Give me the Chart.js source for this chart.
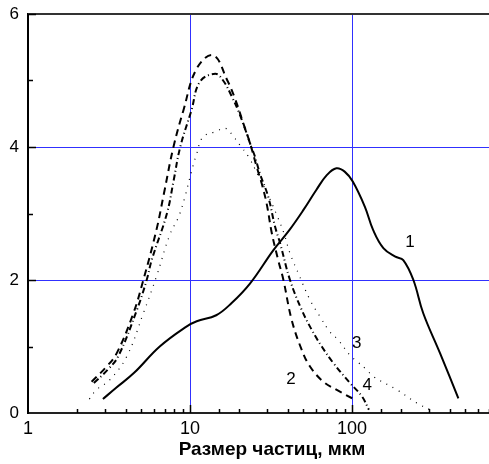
<!DOCTYPE html>
<html>
<head>
<meta charset="utf-8">
<script src="https://cdn.jsdelivr.net/npm/chart.js@4.4.0/dist/chart.umd.min.js"></script>
<style>
  html, body { margin: 0; padding: 0; background: #fff; }
  #wrap { width: 489px; height: 464px; position: relative; }
</style>
</head>
<body>
<div id="wrap"><canvas id="myChart"></canvas></div>
<script>
// particle size distributions, size in micrometres
var size1 = [2.9, 3.5, 4.5, 6.5, 9.5, 11, 14.5, 18, 23.5, 32.7, 41, 50, 60, 70, 80, 90, 101, 120, 135, 156, 185, 207, 239, 275, 349, 453];
var dist1 = [0.21, 0.38, 0.6, 1.0, 1.3, 1.38, 1.47, 1.65, 1.95, 2.45, 2.75, 3.05, 3.35, 3.58, 3.68, 3.63, 3.48, 3.1, 2.75, 2.48, 2.35, 2.3, 2.0, 1.5, 0.9, 0.22];

var size2 = [2.47, 3.06, 3.53, 4.47, 5.15, 6.2, 6.9, 7.9, 9.1, 11, 13.9, 17, 19, 21.3, 23.5, 25.8, 27.7, 29.7, 32, 35, 37.7, 42.4, 48.9, 55, 66.5, 80, 104];
var dist2 = [0.47, 0.7, 0.9, 1.5, 2.0, 2.75, 3.3, 4.0, 4.55, 5.18, 5.38, 5.0, 4.72, 4.36, 4.05, 3.7, 3.45, 3.15, 2.7, 2.3, 2.0, 1.4, 0.95, 0.7, 0.47, 0.35, 0.2];

var size3 = [2.39, 2.65, 3.2, 4.07, 5.15, 6.2, 7.5, 8.5, 9.3, 10.2, 11, 12, 14.3, 16.6, 18.5, 20.3, 23, 26, 30, 34, 38, 41.4, 46.6, 55, 63.4, 73, 82, 97, 108, 123, 135, 189, 251, 302];
var dist3 = [0.21, 0.35, 0.5, 0.85, 1.5, 2.05, 2.68, 2.95, 3.25, 3.63, 3.9, 4.15, 4.23, 4.28, 4.16, 4.03, 3.85, 3.6, 3.3, 3.0, 2.7, 2.4, 2.1, 1.7, 1.45, 1.22, 1.1, 0.87, 0.77, 0.65, 0.55, 0.35, 0.15, 0.05];

var size4 = [2.55, 3.1, 3.6, 4.7, 5.4, 5.8, 7.2, 7.9, 8.7, 10.2, 11.5, 14.3, 16, 18.1, 19.8, 21.8, 23.5, 25.2, 27, 30.4, 33.5, 36, 41.4, 48.9, 56.4, 65, 76.7, 97.2, 115, 127];
var dist4 = [0.45, 0.65, 0.85, 1.55, 2.0, 2.3, 3.0, 3.48, 4.0, 4.55, 4.98, 5.1, 5.0, 4.76, 4.55, 4.28, 4.05, 3.85, 3.6, 3.25, 2.8, 2.55, 2.0, 1.55, 1.25, 1.0, 0.75, 0.45, 0.25, 0.05];

// curve numbers and where they sit (in data units)
var curveNames = ['1', '2', '3', '4'];
var nameX = [228, 42, 107, 124];
var nameY = [2.56, 0.5, 1.05, 0.42];

var xLabels = [1, 10, 100];
var yLabels = [0, 2, 4, 6];
var xGrid = [10, 100];
var yGrid = [2, 4];
var xTitle = 'Размер частиц, мкм';

var gridBlue = '#3030ff';
var fontFamily = '"Liberation Sans", Arial, sans-serif';

function points(xs, ys) {
    return xs.map(function (x, i) { return { x: x, y: ys[i] }; });
}

function near(v, list) {
    return list.some(function (t) { return Math.abs(v - t) < 1e-6; });
}

// blue reference lines under the curves
var refLines = {
    id: 'refLines',
    beforeDatasetsDraw: function (chart) {
        var c = chart.ctx, a = chart.chartArea, xs = chart.scales.x, ys = chart.scales.y;
        c.save();
        c.fillStyle = gridBlue;
        xGrid.forEach(function (v) {
            c.fillRect(Math.round(xs.getPixelForValue(v)), a.top, 1, a.bottom - a.top);
        });
        yGrid.forEach(function (v) {
            c.fillRect(a.left, Math.round(ys.getPixelForValue(v)), a.right - a.left, 1);
        });
        c.fillStyle = '#333';
        c.fillRect(a.left, Math.round(ys.getPixelForValue(6)) - 1, a.right - a.left, 2);
        c.restore();
    }
};

// inward tick marks (long at labelled values), curve numbers, axis title
var extras = {
    id: 'extras',
    afterDraw: function (chart) {
        var c = chart.ctx, xs = chart.scales.x, ys = chart.scales.y;
        var bottom = ys.getPixelForValue(0), left = xs.getPixelForValue(1);
        c.save();
        c.strokeStyle = '#000';
        c.lineWidth = 1.5;
        c.beginPath();
        xs.ticks.forEach(function (t) {
            if (t.value <= 1) return;
            var len = near(t.value, xLabels) ? 8 : 4;
            var px = Math.round(xs.getPixelForValue(t.value)) + 0.5;
            c.moveTo(px, bottom);
            c.lineTo(px, bottom - len);
        });
        ys.ticks.forEach(function (t) {
            if (t.value <= 0) return;
            var len = near(t.value, yLabels) ? 8 : 5;
            var py = Math.round(ys.getPixelForValue(t.value)) + 0.5;
            c.moveTo(left, py);
            c.lineTo(left + len, py);
        });
        c.stroke();

        c.fillStyle = '#000';
        c.font = '17px ' + fontFamily;
        c.textAlign = 'center';
        c.textBaseline = 'middle';
        curveNames.forEach(function (n, i) {
            c.fillText(n, xs.getPixelForValue(nameX[i]), ys.getPixelForValue(nameY[i]));
        });

        c.font = 'bold 19px ' + fontFamily;
        c.fillText(xTitle, 272, 450);
        c.restore();
    }
};

var ctx = document.getElementById('myChart');

var myChart = new Chart(ctx, {
    type: 'line',
    data: {
        datasets: [{
            label: '1',
            data: points(size1, dist1),
            borderColor: '#000',
            borderWidth: 2,
            tension: 0.4
        }, {
            label: '2',
            data: points(size2, dist2),
            borderColor: '#000',
            borderWidth: 2,
            borderDash: [7, 5],
            tension: 0.4
        }, {
            label: '3',
            data: points(size3, dist3),
            borderColor: '#000',
            borderWidth: 1.2,
            borderDash: [1, 6],
            tension: 0.4
        }, {
            label: '4',
            data: points(size4, dist4),
            borderColor: '#000',
            borderWidth: 2,
            borderDash: [6, 3, 1, 3],
            tension: 0.4
        }]
    },
    options: {
        responsive: true,
        maintainAspectRatio: false,
        animation: false,
        elements: { point: { radius: 0 } },
        layout: { padding: { top: 14, right: 0, left: 0, bottom: 0 } },
        plugins: {
            legend: { display: false },
            tooltip: { enabled: false }
        },
        scales: {
            x: {
                type: 'logarithmic',
                min: 1,
                max: 700,
                afterFit: function (s) { s.height = 51; },
                border: { color: '#222', width: 2 },
                grid: {
                    drawOnChartArea: false,
                    drawTicks: true,
                    tickLength: 5,
                    tickColor: 'rgba(0,0,0,0)'
                },
                ticks: {
                    autoSkip: false,
                    maxRotation: 0,
                    padding: 0,
                    color: '#000',
                    font: { family: fontFamily, size: 18 },
                    callback: function (v) { return near(v, xLabels) ? String(v) : ''; }
                }
            },
            y: {
                min: 0,
                max: 6,
                afterFit: function (s) { s.width = 28; },
                border: { color: '#000', width: 2 },
                grid: {
                    drawOnChartArea: false,
                    drawTicks: true,
                    tickLength: 9,
                    tickColor: 'rgba(0,0,0,0)'
                },
                ticks: {
                    stepSize: 1,
                    padding: 0,
                    color: '#000',
                    font: { family: fontFamily, size: 17 },
                    callback: function (v) { return near(v, yLabels) ? String(v) : ''; }
                }
            }
        }
    },
    plugins: [refLines, extras]
});
</script>
</body>
</html>
